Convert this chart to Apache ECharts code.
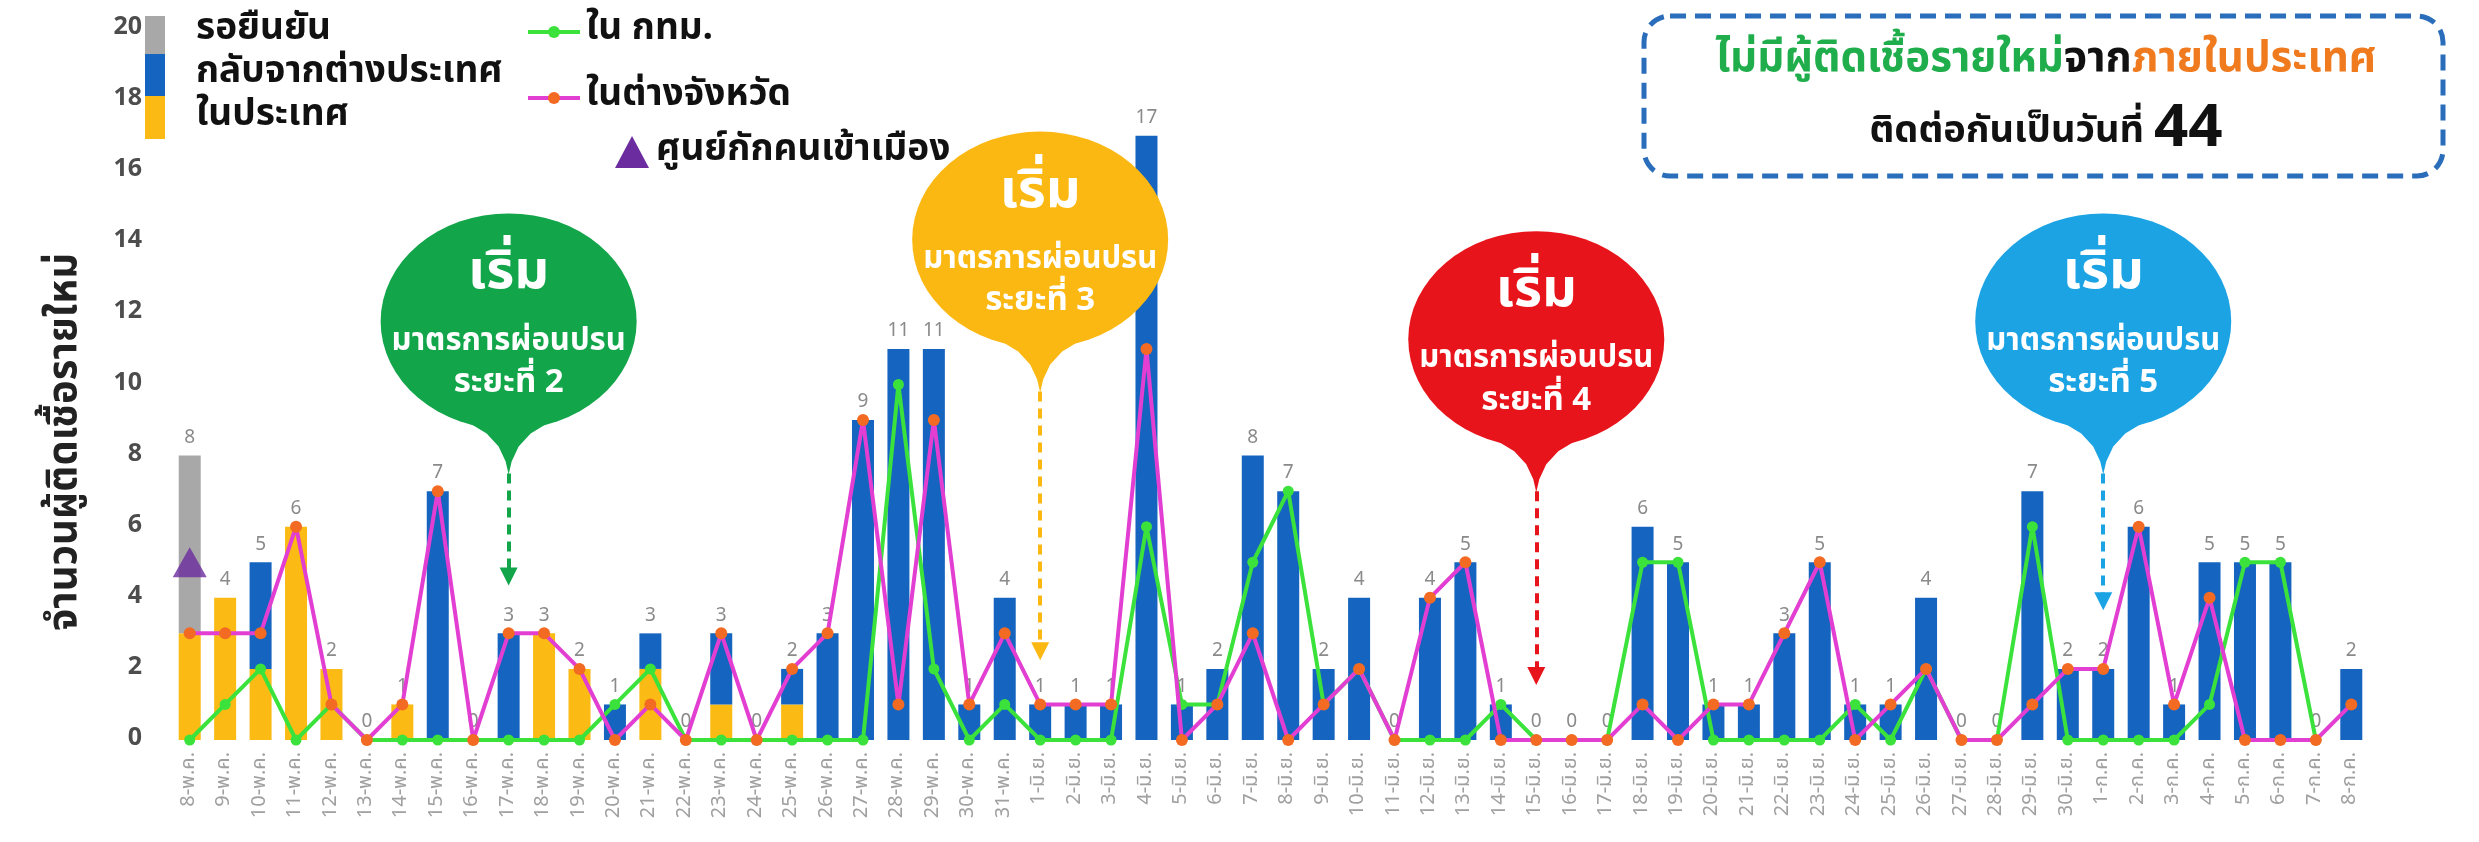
<!DOCTYPE html>
<html><head><meta charset="utf-8">
<script src="https://cdn.jsdelivr.net/npm/echarts@6/dist/echarts.min.js"></script>
<style>html,body{margin:0;padding:0;background:#fff}#c{width:2479px;height:842px}</style>
</head><body><div id="c"></div>
<script>
// ---------- DATA ----------
const categories = [
 '8-พ.ค.','9-พ.ค.','10-พ.ค.','11-พ.ค.','12-พ.ค.','13-พ.ค.','14-พ.ค.','15-พ.ค.','16-พ.ค.','17-พ.ค.','18-พ.ค.','19-พ.ค.',
 '20-พ.ค.','21-พ.ค.','22-พ.ค.','23-พ.ค.','24-พ.ค.','25-พ.ค.','26-พ.ค.','27-พ.ค.','28-พ.ค.','29-พ.ค.','30-พ.ค.','31-พ.ค.',
 '1-มิ.ย.','2-มิ.ย.','3-มิ.ย.','4-มิ.ย.','5-มิ.ย.','6-มิ.ย.','7-มิ.ย.','8-มิ.ย.','9-มิ.ย.','10-มิ.ย.','11-มิ.ย.','12-มิ.ย.',
 '13-มิ.ย.','14-มิ.ย.','15-มิ.ย.','16-มิ.ย.','17-มิ.ย.','18-มิ.ย.','19-มิ.ย.','20-มิ.ย.','21-มิ.ย.','22-มิ.ย.','23-มิ.ย.','24-มิ.ย.',
 '25-มิ.ย.','26-มิ.ย.','27-มิ.ย.','28-มิ.ย.','29-มิ.ย.','30-มิ.ย.',
 '1-ก.ค.','2-ก.ค.','3-ก.ค.','4-ก.ค.','5-ก.ค.','6-ก.ค.','7-ก.ค.','8-ก.ค.'
];
// ในประเทศ (domestic)
const domestic = [3,4,2,6,2,0,1,0,0,0,3,2,0,2,0,1,0,1,0,0,0,0,0,0,
 0,0,0,0,0,0,0,0,0,0,0,0,0,0,0,0,0,0,0,0,0,0,0,0,0,0,0,0,0,0,
 0,0,0,0,0,0,0,0];
// กลับจากต่างประเทศ (returnees)
const returnees = [0,0,3,0,0,0,0,7,0,3,0,0,1,1,0,2,0,1,3,9,11,11,1,4,
 1,1,1,17,1,2,8,7,2,4,0,4,5,1,0,0,0,6,5,1,1,3,5,1,1,4,0,0,7,2,
 2,6,1,5,5,5,0,2];
// รอยืนยัน (pending)
const pending = [5,0,0,0,0,0,0,0,0,0,0,0,0,0,0,0,0,0,0,0,0,0,0,0,
 0,0,0,0,0,0,0,0,0,0,0,0,0,0,0,0,0,0,0,0,0,0,0,0,0,0,0,0,0,0,
 0,0,0,0,0,0,0,0];
// ใน กทม.
const bangkok = [0,1,2,0,1,0,0,0,0,0,0,0,1,2,0,0,0,0,0,0,10,2,0,1,
 0,0,0,6,1,1,5,7,1,2,0,0,0,1,0,0,0,5,5,0,0,0,0,1,0,2,0,0,6,0,
 0,0,0,1,5,5,0,null];
// ในต่างจังหวัด
const provinces = [3,3,3,6,1,0,1,7,0,3,3,2,0,1,0,3,0,2,3,9,1,9,1,3,
 1,1,1,11,0,1,3,0,1,2,0,4,5,0,0,0,0,1,0,1,1,3,5,0,1,2,0,0,1,2,
 2,6,1,4,0,0,0,1];
// ศูนย์กักคนเข้าเมือง
const detention = [5,null,null,null,null,null,null,null,null,null,null,null,null,null,null,null,null,null,null,null,null,null,null,null,
 null,null,null,null,null,null,null,null,null,null,null,null,null,null,null,null,null,null,null,null,null,null,null,null,null,null,null,null,null,null,
 null,null,null,null,null,null,null,null];
const yTicks = {min:0, max:20, step:2};
const phaseDates = ['17-พ.ค.','1-มิ.ย.','15-มิ.ย.','1-ก.ค.'];
const phaseNames = ['ระยะที่ 2','ระยะที่ 3','ระยะที่ 4','ระยะที่ 5'];
const streakDays = 44;

const totals = categories.map((c,i)=>domestic[i]+returnees[i]+pending[i]);

// ---------- STYLE ----------
const FONT = "'Noto Sans Thai','Noto Sans','DejaVu Sans',sans-serif";
const C = {yellow:'#fbbb14', blue:'#1564c0', gray:'#a8a8a8', green:'#3be23b', pink:'#e23fd2', orange:'#f36a22', purple:'#6a2c9e'};
const phaseStyle = [
  {color:'#12a54a', tip:7.5, arrow:4.6},
  {color:'#fbb812', tip:9.8, arrow:2.5},
  {color:'#e8141b', tip:7.0, arrow:1.8},
  {color:'#1ba3e4', tip:7.5, arrow:3.9}
];

const chart = echarts.init(document.getElementById('c'));
const BW = 22;
chart.setOption({
  animation:false,
  backgroundColor:'#fff',
  textStyle:{fontFamily:FONT},
  grid:{left:172, right:110, top:29, bottom:102, containLabel:false},
  xAxis:{type:'category', data:categories,
    axisLine:{show:false}, axisTick:{show:false},
    axisLabel:{rotate:90, interval:0, fontSize:20, color:'#a0a0a0', margin:12, fontFamily:FONT}},
  yAxis:{type:'value', min:yTicks.min, max:yTicks.max, interval:yTicks.step,
    splitLine:{show:false}, axisLine:{show:false}, axisTick:{show:false},
    axisLabel:{fontSize:25, fontWeight:'bold', color:'#4d4d4d', margin:30, fontFamily:FONT}},
  series:[
    {name:'ในประเทศ', type:'bar', stack:'a', data:domestic, barWidth:BW, barGap:'-100%', itemStyle:{color:C.yellow}, z:2},
    {name:'กลับจากต่างประเทศ', type:'bar', stack:'a', data:returnees, barWidth:BW, barGap:'-100%', itemStyle:{color:C.blue}, z:2},
    {name:'รอยืนยัน', type:'bar', stack:'a', data:pending, barWidth:BW, barGap:'-100%', itemStyle:{color:C.gray}, z:2},
    {name:'total', type:'bar', data:totals, barWidth:BW, barGap:'-100%', itemStyle:{color:'rgba(0,0,0,0)'}, z:1,
      label:{show:true, position:'top', distance:7, fontSize:19, color:'#8a8a8a', fontFamily:FONT},
      markLine:{silent:true, symbol:['none','triangle'], symbolSize:18, label:{show:false},
        data: phaseDates.map((d,i)=>[
          {coord:[d, phaseStyle[i].tip], lineStyle:{color:phaseStyle[i].color, type:[10,7], width:4}, itemStyle:{color:phaseStyle[i].color}},
          {coord:[d, phaseStyle[i].arrow]}
        ])}},
    {name:'ใน กทม.', type:'line', data:bangkok, z:5, symbol:'circle', symbolSize:11,
      lineStyle:{color:C.green, width:4}, itemStyle:{color:C.green}},
    {name:'ในต่างจังหวัด', type:'line', data:provinces, z:6, symbol:'circle', symbolSize:12,
      lineStyle:{color:C.pink, width:4}, itemStyle:{color:C.orange}},
    {name:'ศูนย์กักคนเข้าเมือง', type:'scatter', data:detention, z:7, symbol:'triangle', symbolSize:[34,30],
      itemStyle:{color:C.purple}}
  ]
});

// ---------- ANNOTATIONS ----------
const g = [];
const T = (x,y,text,size,color)=>({type:'text', x, y, z:100,
  style:{text, fill:color, fontSize:size, fontWeight:'bold', fontFamily:FONT, align:'left', verticalAlign:'middle'}});

// y-axis title
g.push({type:'text', x:68, y:442, rotation:Math.PI/2, z:100,
  style:{text:'จำนวนผู้ติดเชื้อรายใหม่', fill:'#222', fontSize:40, fontWeight:'bold', fontFamily:FONT, align:'center', verticalAlign:'middle'}});

// left legend strip
g.push({type:'rect', z:100, shape:{x:145,y:16,width:20,height:38}, style:{fill:C.gray}});
g.push({type:'rect', z:100, shape:{x:145,y:54,width:20,height:42}, style:{fill:C.blue}});
g.push({type:'rect', z:100, shape:{x:145,y:96,width:20,height:43}, style:{fill:C.yellow}});
g.push(T(196,32,'รอยืนยัน',37,'#111'));
g.push(T(196,75,'กลับจากต่างประเทศ',37,'#111'));
g.push(T(196,118,'ในประเทศ',37,'#111'));
// right legend
g.push({type:'line', z:100, shape:{x1:528,y1:32,x2:580,y2:32}, style:{stroke:C.green, lineWidth:4}});
g.push({type:'circle', z:101, shape:{cx:554,cy:32,r:6}, style:{fill:C.green}});
g.push(T(586,32,'ใน กทม.',37,'#111'));
g.push({type:'line', z:100, shape:{x1:528,y1:98,x2:580,y2:98}, style:{stroke:C.pink, lineWidth:4}});
g.push({type:'circle', z:101, shape:{cx:554,cy:98,r:6}, style:{fill:C.orange}});
g.push(T(586,98,'ในต่างจังหวัด',37,'#111'));
g.push({type:'polygon', z:100, shape:{points:[[632,136],[649,168],[615,168]]}, style:{fill:C.purple}});
g.push(T(656,153,'ศูนย์กักคนเข้าเมือง',37,'#111'));

// top-right box
g.push({type:'rect', z:100, shape:{x:1644,y:16,width:799,height:160,r:26},
  style:{fill:'#fff', stroke:'#2a6ebb', lineWidth:5, lineDash:[16,9]}});
g.push({type:'text', x:2046, y:63, z:101, style:{
  text:'{g|ไม่มีผู้ติดเชื้อรายใหม่}{k|จาก}{o|ภายในประเทศ}', align:'center', verticalAlign:'middle',
  rich:{g:{fill:'#1fae4b', fontSize:42, fontWeight:'bold', fontFamily:FONT},
        k:{fill:'#111', fontSize:42, fontWeight:'bold', fontFamily:FONT},
        o:{fill:'#f07a1e', fontSize:42, fontWeight:'bold', fontFamily:FONT}}}});
g.push({type:'text', x:2046, y:134, z:101, style:{
  text:'{k|ติดต่อกันเป็นวันที่ }{n|'+streakDays+'}', align:'center', verticalAlign:'middle',
  rich:{k:{fill:'#111', fontSize:38, fontWeight:'bold', fontFamily:FONT},
        n:{fill:'#111', fontSize:60, fontWeight:'bold', fontFamily:FONT}}}});

// bubbles
phaseDates.forEach((d,i)=>{
  const st = phaseStyle[i];
  const tip = chart.convertToPixel({xAxisIndex:0,yAxisIndex:0},[d, st.tip]);
  const cx = tip[0], cy = tip[1]-152;
  g.push({type:'circle', z:100, x:cx, y:cy, scaleY:108/128, shape:{cx:0,cy:0,r:128}, style:{fill:st.color}});
  g.push({type:'polygon', z:100, shape:{points:[[cx-50,cy+95],[cx-22,cy+112],[cx-10,cy+125],[cx-3,cy+140],[cx,cy+153],[cx+3,cy+140],[cx+10,cy+125],[cx+22,cy+112],[cx+50,cy+95]]}, style:{fill:st.color}});
  g.push({type:'text', x:cx, y:cy-44, z:101, style:{text:'เริ่ม', fill:'#fff', fontSize:54, fontWeight:'bold', fontFamily:FONT, align:'center', verticalAlign:'middle'}});
  g.push({type:'text', x:cx, y:cy+22, z:101, style:{text:'มาตรการผ่อนปรน', fill:'#fff', fontSize:31, fontWeight:'bold', fontFamily:FONT, align:'center', verticalAlign:'middle'}});
  g.push({type:'text', x:cx, y:cy+64, z:101, style:{text:phaseNames[i], fill:'#fff', fontSize:33, fontWeight:'bold', fontFamily:FONT, align:'center', verticalAlign:'middle'}});
});
chart.setOption({graphic:g});
</script></body></html>
